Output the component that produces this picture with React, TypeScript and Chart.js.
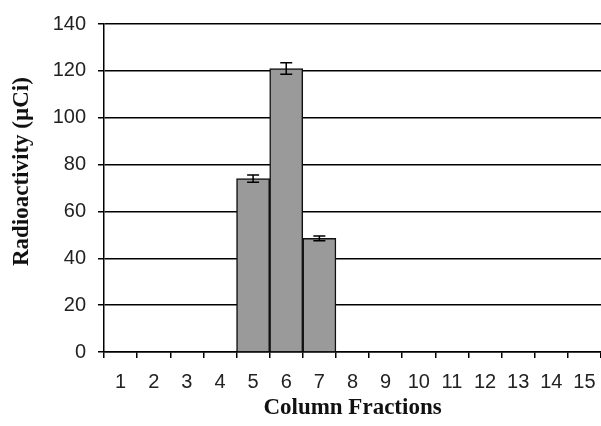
import React, { useEffect, useRef } from "react";
import { Chart, registerables } from "chart.js";

Chart.register(...registerables);

const categories = ["1", "2", "3", "4", "5", "6", "7", "8", "9", "10", "11", "12", "13", "14", "15"];
const values = [0, 0, 0, 0, 74, 121, 48.5, 0, 0, 0, 0, 0, 0, 0, 0];
const errors = [0, 0, 0, 0, 1.5, 2.5, 1, 0, 0, 0, 0, 0, 0, 0, 0];
const yTitle = "Radioactivity (\u00b5Ci)";
const xTitle = "Column Fractions";

const errorBarPlugin = {
  id: "errorBars",
  afterDatasetsDraw(chart: any) {
    const ctx = chart.ctx;
    const meta = chart.getDatasetMeta(0);
    const y = chart.scales.y;
    ctx.save();
    ctx.strokeStyle = "#000";
    ctx.lineWidth = 1.5;
    meta.data.forEach((bar: any, i: number) => {
      const e = errors[i];
      if (!e) return;
      const v = values[i];
      const x = bar.x;
      const yTop = y.getPixelForValue(v + e);
      const yBot = y.getPixelForValue(v - e);
      const cap = 6;
      ctx.beginPath();
      ctx.moveTo(x, yTop);
      ctx.lineTo(x, yBot);
      ctx.moveTo(x - cap, yTop);
      ctx.lineTo(x + cap, yTop);
      ctx.moveTo(x - cap, yBot);
      ctx.lineTo(x + cap, yBot);
      ctx.stroke();
    });
    ctx.restore();
  },
};

const yTitlePlugin = {
  id: "yTitle",
  afterDraw(chart: any) {
    const ctx = chart.ctx;
    const area = chart.chartArea;
    ctx.save();
    ctx.translate(22, area.top + (area.bottom - area.top) * 0.45);
    ctx.rotate(-Math.PI / 2);
    ctx.fillStyle = "#111";
    ctx.font = "bold 23px 'Liberation Serif'";
    ctx.textAlign = "center";
    ctx.textBaseline = "middle";
    ctx.fillText(yTitle, 0, 0);
    ctx.restore();
  },
};

export default function App() {
  const ref = useRef<HTMLCanvasElement>(null);
  useEffect(() => {
    if (!ref.current) return;
    const chart = new Chart(ref.current, {
      type: "bar",
      data: {
        labels: categories,
        datasets: [
          {
            data: values,
            backgroundColor: "#9a9a9a",
            borderColor: "#111",
            borderWidth: 1.5,
            categoryPercentage: 1,
            barPercentage: 1,
          },
        ],
      },
      options: {
        animation: false,
        responsive: false,
        maintainAspectRatio: false,
        layout: { padding: { top: 23, right: 0, left: 0, bottom: 0 } },
        plugins: { legend: { display: false }, tooltip: { enabled: false } },
        scales: {
          x: {
            grid: {
              display: true,
              drawOnChartArea: false,
              drawTicks: true,
              tickLength: 6,
              color: "#000",
              lineWidth: 1.5,
              offset: true,
            },
            border: { display: true, color: "#000", width: 1.5 },
            ticks: {
              color: "#222",
              font: { family: "Liberation Sans", size: 20 },
              padding: 12,
              maxRotation: 0,
              autoSkip: false,
            },
            title: {
              display: true,
              text: xTitle,
              color: "#111",
              font: { family: "Liberation Serif", size: 23, weight: "bold" },
              padding: { top: 0, bottom: 4 },
            },
            afterFit: (s: any) => {
              s.height = 74;
              s.paddingRight = 0;
              s.paddingLeft = 0;
            },
          },
          y: {
            min: 0,
            max: 140,
            ticks: {
              stepSize: 20,
              color: "#222",
              font: { family: "Liberation Sans", size: 20 },
              padding: 12,
            },
            grid: {
              color: "#000",
              lineWidth: 1.5,
              drawTicks: true,
              tickLength: 6,
            },
            border: { display: true, color: "#000", width: 1.5 },
            afterFit: (s: any) => {
              s.width = 104;
            },
          },
        },
      },
      plugins: [errorBarPlugin, yTitlePlugin],
    });
    return () => chart.destroy();
  }, []);
  return (
    <div style={{ position: "fixed", left: 0, top: 0, width: 601, height: 426, background: "#fff" }}>
      <canvas ref={ref} width={601} height={426} style={{ width: 601, height: 426 }} />
    </div>
  );
}
